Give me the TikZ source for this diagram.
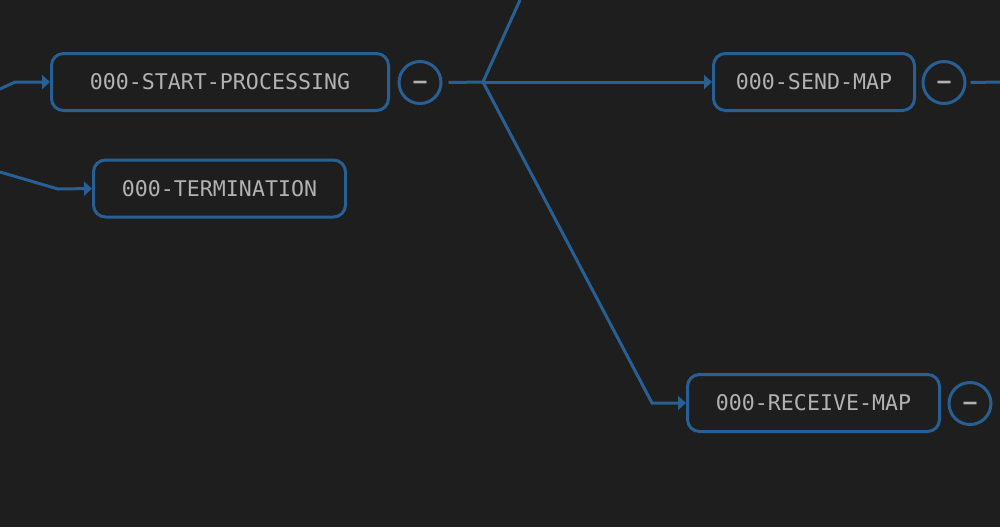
\documentclass[tikz,border=0pt]{standalone}
\usepackage{fontspec}
\setmonofont{DejaVu Sans Mono}
\usepackage{tikz}
\usetikzlibrary{arrows.meta,positioning}
\definecolor{fondo}{RGB}{30,30,30}
\definecolor{azul}{RGB}{40,96,150}
\definecolor{gris}{RGB}{178,178,178}

\begin{document}
\begin{tikzpicture}
		[x=0.5pt,y=-0.5pt,
		place/.style={rectangle,rounded corners=6pt,draw=azul,line width=1.5pt,
			fill=fondo,text=gris,inner sep=0pt,minimum height=28.5pt,
			font=\ttfamily\fontsize{10.8}{13}\selectfont},
		place1/.style={circle,draw=azul,line width=1.5pt,text=gris,
			inner sep=0pt,minimum size=21pt,text height=5.8pt,text depth=0pt,
			font=\ttfamily\bfseries\fontsize{10.8}{13}\selectfont},
		flecha/.style={azul,line width=1.5pt,-{Triangle[length=4pt,width=7pt]}},
		linea/.style={azul,line width=1.5pt}]
		% fondo
		\fill[fondo] (0,0) rectangle (1000,527);
		\useasboundingbox (0,0) rectangle (1000,527);
		%---------------------cajas------------
		\node (start) at (220,82) [place,minimum width=168.5pt] {000-START-PROCESSING};
		\node (term) at (219.5,188.5) [place,minimum width=126pt] {000-TERMINATION};
		\node (send) at (814,82) [place,minimum width=100.5pt] {000-SEND-MAP};
		\node (recv) at (813.5,403) [place,minimum width=126pt] {000-RECEIVE-MAP};
		%---------------------botones------------
		\node (minA) at (420,82.5) [place1] {\textendash};
		\node (minB) at (944,82.5) [place1] {\textendash};
		\node (minC) at (970,403.5) [place1] {\textendash};
		%---------------------puntos------------
		\coordinate (inA) at (0,89);
		\coordinate (kinkA) at (15,82);
		\coordinate (inB) at (0,172);
		\coordinate (kinkB) at (58,189);
		\coordinate (rama) at (483,82);
		\coordinate (arriba) at (520,0);
		\coordinate (kinkC) at (652,403);
		\coordinate (salida) at (1000,82);
		%---------------------lineas------------
		\draw[flecha] (inA) -- (kinkA) -- (start.west);
		\draw[flecha] (inB) -- (kinkB) -- (term.west);
		\draw[linea] ([xshift=3pt]minA.east) -- (rama) -- (arriba);
		\draw[flecha] (rama) -- (send.west);
		\draw[flecha] (rama) -- (kinkC) -- (recv.west);
		\draw[linea] ([xshift=2pt]minB.east) -- (salida);
		\end{tikzpicture}
\end{document}
